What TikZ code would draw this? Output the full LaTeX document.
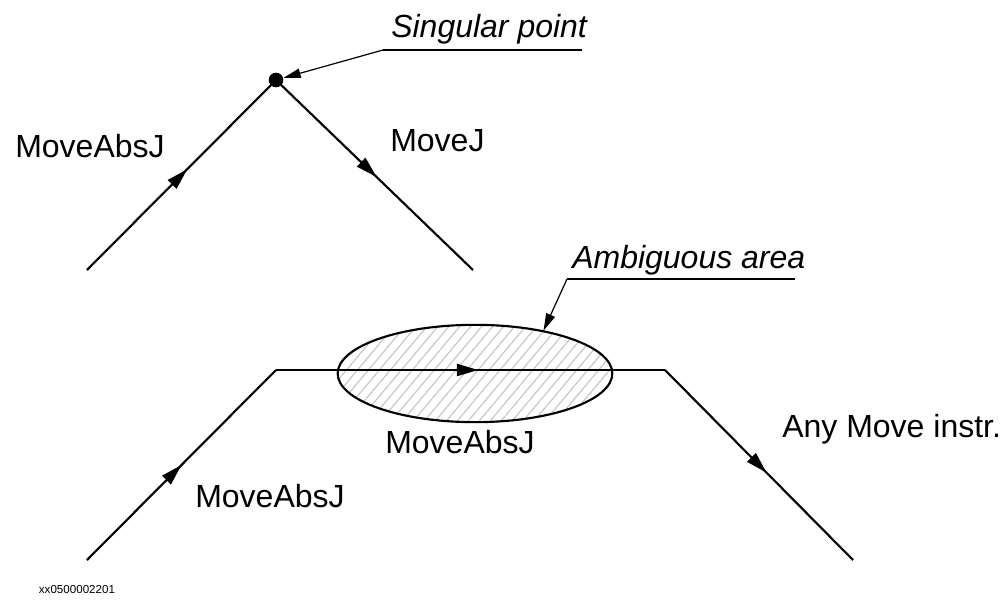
\documentclass[tikz,border=0pt]{standalone}
\usepackage{fontspec}
\setmainfont{Liberation Sans}
\usepackage{tikz}
\usetikzlibrary{arrows.meta, positioning, shapes.geometric, decorations.markings, patterns.meta}

\begin{document}
\begin{tikzpicture}[
  x=0.75pt, y=-0.75pt,
  move/.style={line width=1.6pt, line join=miter},
  midarrow/.style={postaction={decorate}, decoration={markings,
      mark=at position #1 with {\arrow{Triangle[length=16pt, width=9pt]}}}},
  lead/.style={line width=0.9pt},
  leadarr/.style={lead, -{Triangle[length=13pt, width=7pt]}},
  lbl/.style={font=\fontsize{24}{28}\selectfont, anchor=base west, inner sep=0pt},
  note/.style={font=\fontsize{24}{28}\selectfont\itshape, anchor=base west, inner sep=0pt},
  dot/.style={circle, fill=black, inner sep=0pt, minimum size=11pt}
]
  \useasboundingbox (0,0) rectangle (1008,600);

  % upper path through the singular point
  \coordinate (T1) at (87,270);
  \node[dot] (sing) at (276,80) {};
  \coordinate (T2) at (473,270);
  \draw[move, midarrow=0.53] (T1) -- (sing.center);
  \draw[move, midarrow=0.51] (sing.center) -- (T2);

  % ambiguous area
  \node[ellipse, draw, line width=1.6pt, minimum width=206pt, minimum height=73pt,
        pattern={Lines[angle=50, distance=6.3pt, line width=0.9pt]}, pattern color=black!22] (amb) at (475,373.5) {};

  % lower path
  \coordinate (B1) at (87,560);
  \coordinate (B2) at (276,370);
  \coordinate (B3) at (665,370);
  \coordinate (B4) at (853,560);
  \draw[move, midarrow=0.5] (B1) -- (B2);
  \draw[move, midarrow=0.52] (B2) -- (B3);
  \draw[move, midarrow=0.54] (B3) -- (B4);

  % labels
  \foreach \name/\pos/\txt in {la/{15,157}/MoveAbsJ, lb/{390,151}/MoveJ,
      lc/{385,453}/MoveAbsJ, ld/{195,507}/MoveAbsJ, le/{782,437}/{Any Move instr.}}{
    \node[lbl] (\name) at (\pos) {\txt};
  }

  % callouts
  \node[note] (singtxt) at (391,37) {Singular point};
  \coordinate (singL) at (383,50);
  \coordinate (singR) at (582,50);
  \draw[lead] (singL) -- (singR);
  \draw[leadarr] (singL) -- (sing);

  \node[note] (ambtxt) at (572,268) {Ambiguous area};
  \coordinate (ambL) at (567,279);
  \coordinate (ambR) at (795,279);
  \draw[lead] (ambL) -- (ambR);
  \draw[leadarr] (ambL) -- (amb.32);

  \node[font=\fontsize{8.7}{10}\selectfont] (fig) at (77,590) {xx0500002201};
\end{tikzpicture}
\end{document}
